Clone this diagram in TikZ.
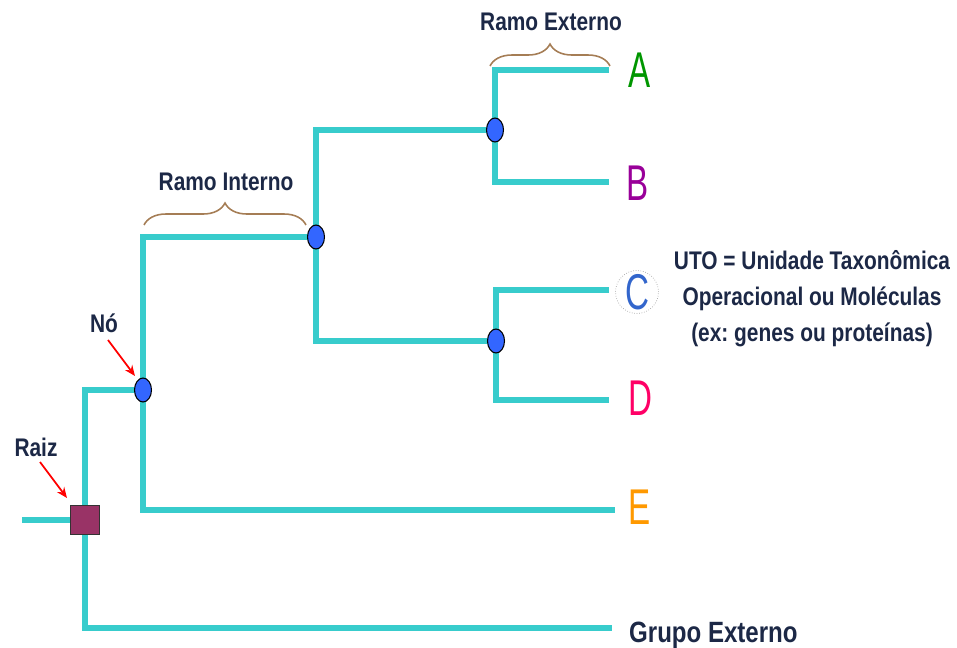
\documentclass[tikz,border=0pt]{standalone}
\usepackage{fontspec}
\setmainfont{Liberation Sans}
\newfontfamily\rotulofont[FakeStretch=0.82]{Liberation Sans}
\newfontfamily\folhafont[FakeStretch=0.66]{Liberation Sans}
\usetikzlibrary{shapes.geometric,decorations.pathreplacing,arrows.meta,backgrounds}
\frenchspacing

\definecolor{corRamo}{RGB}{56,204,204}
\definecolor{corTexto}{RGB}{28,40,70}
\definecolor{corChave}{RGB}{165,125,85}
\definecolor{corRaiz}{RGB}{153,51,102}
\definecolor{corNo}{RGB}{51,102,255}
\definecolor{corA}{RGB}{0,150,0}
\definecolor{corB}{RGB}{153,0,153}
\definecolor{corC}{RGB}{51,102,204}
\definecolor{corD}{RGB}{255,0,102}
\definecolor{corE}{RGB}{255,153,0}

\begin{document}
\begin{tikzpicture}[x=0.02cm,y=-0.02cm,
        galho/.style={line width=3.2pt, corRamo},
        noint/.style={ellipse, draw=black, fill=corNo, line width=0.6pt,
                minimum width=0.34cm, minimum height=0.48cm, inner sep=0pt},
        raizbox/.style={rectangle, draw=black!80, fill=corRaiz, line width=0.6pt,
                minimum size=0.58cm, inner sep=0pt},
        rotulo/.style={text=corTexto, font=\rotulofont\bfseries\fontsize{14.5}{20.5}\selectfont},
        folha/.style={inner sep=0pt, font=\folhafont\fontsize{28.6}{30}\selectfont},
        chave/.style={corChave, line width=0.9pt,
                decorate, decoration={brace, amplitude=12.5pt}},
        seta/.style={red, line width=1pt, -{Stealth[length=6pt,width=5pt]}}]
    \useasboundingbox (0,0) rectangle (957,648);

    % nos da arvore
    \node[raizbox] (raiz) at (85,520) {};
    \node[noint] (n1) at (143,390) {};
    \node[noint] (n2) at (316,237) {};
    \node[noint] (n3) at (495,130) {};
    \node[noint] (n4) at (496,341) {};

    % pontas dos ramos
    \coordinate (base) at (22,520);
    \coordinate (fA) at (609,70);
    \coordinate (fB) at (609,182);
    \coordinate (fC) at (609,290);
    \coordinate (fD) at (609,400);
    \coordinate (fE) at (615,510);
    \coordinate (fG) at (612,628);

    % UTOs
    \node[folha, text=corA] (A) at (640,70) {A};
    \node[folha, text=corB] (B) at (638,183) {B};
    \node[folha, text=corC, circle, draw=gray!70, densely dotted, line width=0.4pt,
            minimum size=0.86cm] (C) at (637,292) {C};
    \node[folha, text=corD] (D) at (640,398) {D};
    \node[folha, text=corE] (E) at (640,507) {E};
    \node[rotulo, anchor=base west, font=\rotulofont\bfseries\fontsize{16.7}{20}\selectfont]
        (grupo) at (623,642) {Grupo Externo};

    \begin{pgfonlayer}{background}
        \draw[galho] (base) -- (raiz.center);
        \draw[galho] (raiz.center) |- (n1.center);
        \draw[galho] (raiz.center) |- (fG);
        \draw[galho] (n1.center) |- (n2.center);
        \draw[galho] (n1.center) |- (fE);
        \draw[galho] (n2.center) |- (n3.center);
        \draw[galho] (n2.center) |- (n4.center);
        \draw[galho] (n3.center) |- (fA);
        \draw[galho] (n3.center) |- (fB);
        \draw[galho] (n4.center) |- (fC);
        \draw[galho] (n4.center) |- (fD);
    \end{pgfonlayer}

    % chaves dos ramos
    \draw[chave] (490,66) -- (610,66);
    \node[rotulo] (externo) at (551,22) {Ramo Externo};
    \draw[chave] (144,225) -- (306,225);
    \node[rotulo] (interno) at (226,182) {Ramo Interno};

    % setas
    \node[rotulo] (no) at (104,323) {Nó};
    \coordinate (noA) at (108,340);
    \coordinate (noB) at (135,376);
    \draw[seta] (noA) -- (noB);
    \node[rotulo] (raizlbl) at (36,447) {Raiz};
    \coordinate (raizA) at (40,462);
    \coordinate (raizB) at (67,498);
    \draw[seta] (raizA) -- (raizB);

    \node[rotulo, align=center] (uto) at (812,299)
        {UTO = Unidade Taxonômica\\Operacional ou Moléculas\\(ex: genes ou proteínas)};
\end{tikzpicture}
\end{document}
